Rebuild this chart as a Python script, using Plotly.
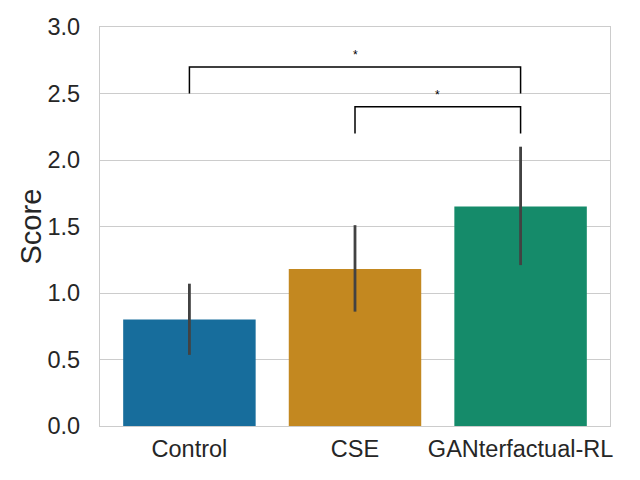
import plotly.graph_objects as go

categories = ["Control", "CSE", "GANterfactual-RL"]
scores = [0.80, 1.18, 1.65]
ci_low = [0.535, 0.86, 1.21]
ci_high = [1.07, 1.51, 2.10]
bar_colors = ["#176d9c", "#c38820", "#158b6a"]

# significance brackets: (left index, right index, bracket height, leg bottom, label)
brackets = [(0, 2, 2.70, 2.50, "*"), (1, 2, 2.40, 2.20, "*")]

y_ticks = [0.0, 0.5, 1.0, 1.5, 2.0, 2.5, 3.0]
y_label = "Score"

xs = list(range(len(categories)))
fig = go.Figure()
fig.add_trace(go.Bar(
    x=xs, y=scores, width=0.8,
    marker=dict(color=bar_colors, line=dict(width=0)),
    error_y=dict(type="data", symmetric=False,
                 array=[h - s for h, s in zip(ci_high, scores)],
                 arrayminus=[s - l for l, s in zip(ci_low, scores)],
                 color="#424242", thickness=2.8, width=0),
    showlegend=False,
))

shapes = []
annotations = []
for a, b, h, low, lab in brackets:
    shapes.append(dict(type="path", xref="x", yref="y",
                       path=f"M {a},{low} L {a},{h} L {b},{h} L {b},{low}",
                       line=dict(color="black", width=1.5)))
    annotations.append(dict(x=(a + b) / 2, y=h, xref="x", yref="y", text=lab,
                            showarrow=False, yanchor="bottom", yshift=3,
                            font=dict(size=12, color="black")))

annotations.append(dict(x=0, y=0.5, xref="paper", yref="paper", text=y_label,
                        textangle=-90, showarrow=False, xanchor="center",
                        yanchor="middle", xshift=-70,
                        font=dict(size=29, color="#262626")))

fig.update_layout(
    width=640, height=480,
    margin=dict(l=92, r=38, t=19, b=62),
    paper_bgcolor="white", plot_bgcolor="white",
    font=dict(family="Liberation Sans, Arial, sans-serif", color="#262626"),
    shapes=shapes, annotations=annotations,
    xaxis=dict(tickvals=xs, ticktext=categories, range=[-0.54, 2.54],
               showgrid=False, showline=True, linecolor="#cccccc", linewidth=1.2,
               mirror=True, ticks="", tickfont=dict(size=23.5), zeroline=False,
               ticklabelstandoff=2, automargin=False),
    yaxis=dict(range=[0, 3.0], tickvals=y_ticks, tickformat=".1f",
               showgrid=True, gridcolor="#cccccc", gridwidth=1,
               showline=True, linecolor="#cccccc", linewidth=1.2, mirror=True,
               ticks="", tickfont=dict(size=23.5), zeroline=False,
               ticklabelstandoff=14, automargin=False),
)

fig.write_html("out.html")
